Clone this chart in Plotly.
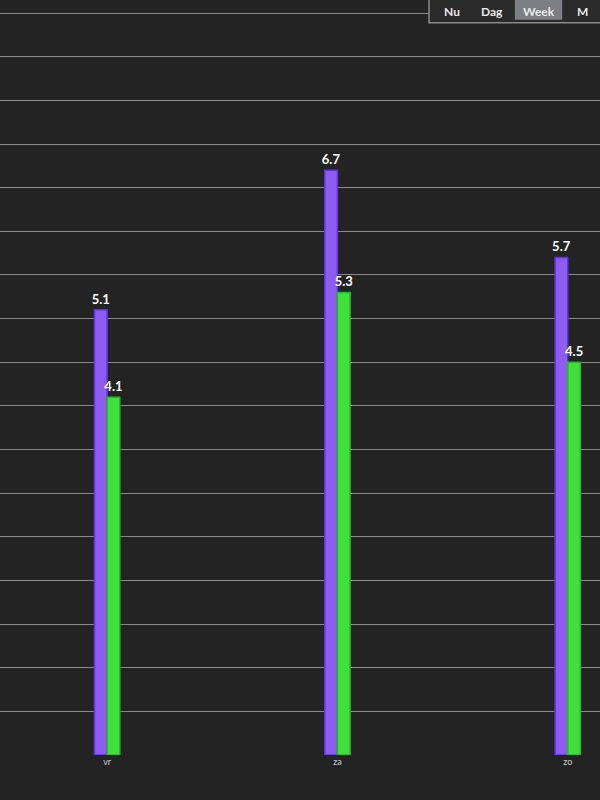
import plotly.graph_objects as go

# days shown in the week view
days = ['vr', 'za', 'zo']
purple_vals = [5.1, 6.7, 5.7]
green_vals = [4.1, 5.3, 4.5]
buttons = ['Nu', 'Dag', 'Week', 'M']


def build_figure():
    fig = go.Figure()
    fig.add_trace(go.Bar(
        x=days, y=purple_vals,
        marker=dict(color='#8f5bf0', line=dict(color='#5a35e6', width=1.5)),
        text=['<b>%s</b>' % v for v in purple_vals],
        textposition='outside', constraintext='none', cliponaxis=False,
        textfont=dict(family='Lato', size=13, color='white'),
    ))
    fig.add_trace(go.Bar(
        x=days, y=green_vals,
        marker=dict(color='#3fe03a', line=dict(color='#2bb52b', width=1.5)),
        text=['<b>%s</b>' % v for v in green_vals],
        textposition='outside', constraintext='none', cliponaxis=False,
        textfont=dict(family='Lato', size=13, color='white'),
    ))

    fig.update_layout(
        width=600, height=800,
        barmode='group', bargap=0.89, bargroupgap=0,
        showlegend=False,
        paper_bgcolor='#232323', plot_bgcolor='#232323',
        margin=dict(l=0, r=0, t=0, b=45),
        font=dict(family='Lato', color='#dddddd'),
        xaxis=dict(range=[-0.465, 2.14], showgrid=False, zeroline=False,
                   tickfont=dict(size=9, color='#cccccc'), ticks=''),
        yaxis=dict(range=[0, 8.65], dtick=0.5, showticklabels=False,
                   gridcolor='#8a8a8a', gridwidth=1, zeroline=False),
    )

    # period selector at the top right
    fig.add_shape(type='rect', xref='paper', yref='paper',
                  x0=0.715, x1=1.02, y0=0.97, y1=1.05,
                  line=dict(color='#8a8a8a', width=1.5), fillcolor='#2a2a2a')
    fig.add_shape(type='rect', xref='paper', yref='paper',
                  x0=0.858, x1=0.937, y0=0.974, y1=1.05,
                  line=dict(width=0), fillcolor='#7c7f84')
    xs = [0.77, 0.842, 0.928, 0.983]
    for lbl, xp in zip(buttons, xs):
        fig.add_annotation(text='<b>%s</b>' % lbl, xref='paper', yref='paper',
                           x=xp, y=0.997, showarrow=False,
                           font=dict(size=12, color='#e8e8e8'))
    return fig


if __name__ == '__main__':
    fig = build_figure()
    fig.write_html('out.html', config={'displayModeBar': False},
                   post_script="document.body.style.margin='0';"
                               "document.body.style.background='#232323';")
